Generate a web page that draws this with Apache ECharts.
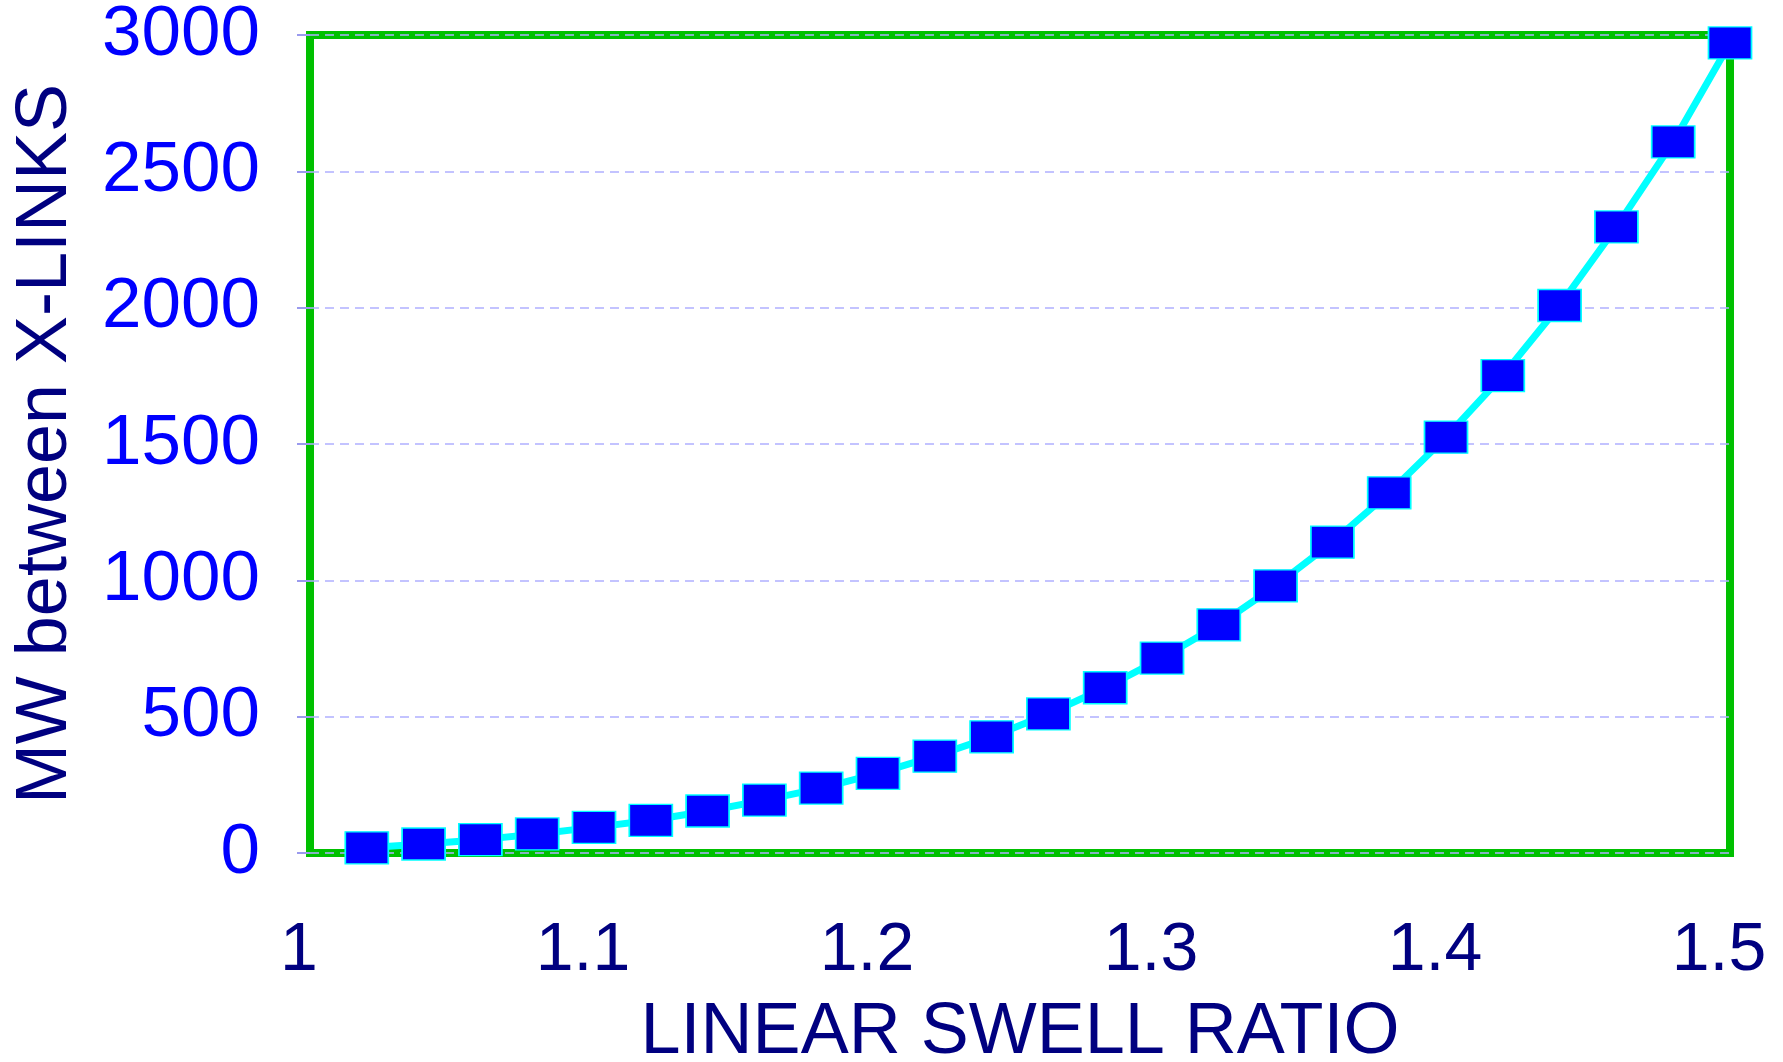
<!DOCTYPE html>
<html>
<head>
<meta charset="utf-8">
<script src="https://cdn.jsdelivr.net/npm/echarts@6/dist/echarts.min.js"></script>
<style>
html,body{margin:0;padding:0;background:#fff;}
#chart{width:1783px;height:1062px;}
</style>
</head>
<body>
<div id="chart"></div>
<script>
const swellRatio = [1.02,1.04,1.06,1.08,1.10,1.12,1.14,1.16,1.18,1.20,1.22,1.24,1.26,1.28,1.30,1.32,1.34,1.36,1.38,1.40,1.42,1.44,1.46,1.48,1.50];
const mwValues = [19,33,49,70,94,120,154,194,238,292,355,426,510,606,715,837,980,1140,1321,1525,1751,2008,2296,2608,2971];
const xTitle = 'LINEAR SWELL RATIO';
const yTitle = 'MW between X-LINKS';

const FONT = '"Liberation Sans", Arial, sans-serif';
const chart = echarts.init(document.getElementById('chart'), null, {renderer:'canvas'});
const points = swellRatio.map((x, i) => [x, mwValues[i]]);
chart.setOption({
  animation: false,
  backgroundColor: '#ffffff',
  grid: {
    left: 310, right: 53, top: 35, bottom: 209,
    outerBoundsMode: 'none', containLabel: false,
    show: true, borderColor: '#00c000', borderWidth: 8, backgroundColor: 'transparent'
  },
  xAxis: {
    type: 'value', min: 1, max: 1.5, interval: 0.1,
    name: xTitle, nameLocation: 'middle', nameGap: 144,
    nameTextStyle: {color: '#000080', fontSize: 72, fontFamily: FONT},
    axisLine: {show: false},
    axisTick: {show: false},
    splitLine: {show: false},
    axisLabel: {
      color: '#000080', fontSize: 68, fontFamily: FONT, margin: 64,
      padding: [0, 22, 0, 0],
      formatter: v => String(Math.round(v * 10) / 10)
    }
  },
  yAxis: {
    type: 'value', min: 0, max: 3000, interval: 500,
    name: yTitle, nameLocation: 'middle', nameGap: 228,
    nameTextStyle: {color: '#000080', fontSize: 72, fontFamily: FONT},
    axisLine: {show: false},
    axisTick: {show: true, length: 13, lineStyle: {color: '#9a9aee', width: 2}},
    splitLine: {show: true, lineStyle: {color: '#b0b0ff', width: 1.5, type: [9, 6]}},
    axisLabel: {color: '#0000ff', fontSize: 71, fontFamily: FONT, margin: 50,
      formatter: v => String(v)}
  },
  series: [{
    type: 'line',
    data: points,
    lineStyle: {color: '#00ffff', width: 7},
    symbol: 'rect',
    symbolSize: [43, 32],
    itemStyle: {color: '#0000ff', borderColor: '#00ffff', borderWidth: 1.5},
    clip: false,
    z: 5
  }]
});
</script>
</body>
</html>
